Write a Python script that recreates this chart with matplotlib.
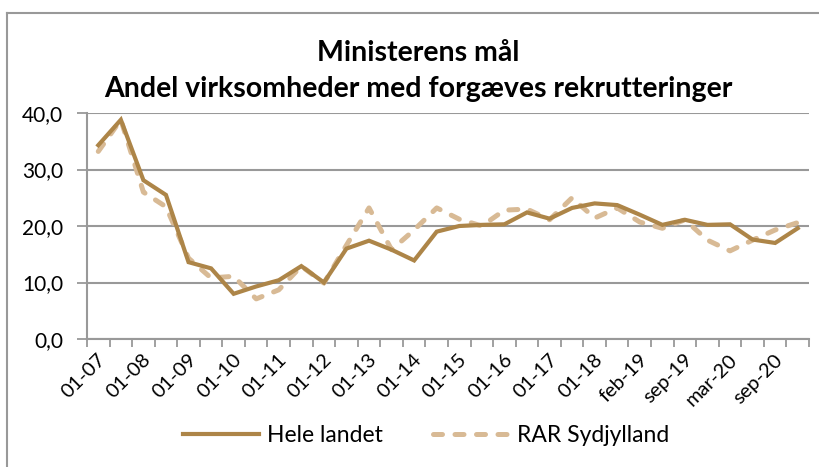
import matplotlib
matplotlib.use("Agg")
import matplotlib.pyplot as plt
import numpy as np

# tick labels (every second category is labelled)
LABELS = ["01-07", "01-08", "01-09", "01-10", "01-11", "01-12", "01-13", "01-14",
          "01-15", "01-16", "01-17", "01-18", "feb-19", "sep-19", "mar-20", "sep-20"]

hele_landet = [34.3, 38.8, 28.1, 25.5, 13.6, 12.5, 8.0, 9.3, 10.4, 12.9, 10.0, 16.0,
               17.4, 15.8, 13.9, 19.0, 20.0, 20.2, 20.3, 22.4, 21.3, 23.2, 24.0, 23.7,
               22.0, 20.2, 21.1, 20.2, 20.3, 17.6, 17.0, 19.6]

rar_sydjylland = [33.2, 38.8, 26.0, 23.4, 14.3, 10.8, 11.1, 7.1, 8.7, 12.9, 9.9, 16.6,
                  23.2, 15.8, 19.3, 23.2, 21.2, 20.0, 22.8, 23.0, 21.1, 25.0, 21.4, 23.2,
                  20.7, 19.6, 21.1, 17.5, 15.6, 17.5, 19.3, 20.6]

SOLID = "#AD8548"
DASHED = "#D8BA95"
GRID = "#999999"
FONT = "Lato"

plt.rcParams["font.family"] = [FONT, "DejaVu Sans"]

fig = plt.figure(figsize=(8.2, 4.67), dpi=100)
ax = fig.add_axes([87 / 820, 1 - 339 / 467, (809 - 87) / 820, (339 - 113) / 467])

x = np.arange(len(hele_landet))
ax.plot(x, hele_landet, color=SOLID, linewidth=3.0, solid_joinstyle="miter",
        label="Hele landet", zorder=3)
ax.plot(x, rar_sydjylland, color=DASHED, linewidth=3.6, dashes=(1.8, 2.5),
        dash_capstyle="round", label="RAR Sydjylland", zorder=2)

ax.set_xlim(-0.5, len(x) - 0.5)
ax.set_ylim(0, 40)
ax.set_yticks(np.arange(0, 41, 10))
ax.set_yticklabels([f"{v:.1f}".replace(".", ",") for v in np.arange(0, 41, 10)])
ax.yaxis.grid(True, color=GRID, linewidth=1.5)
ax.set_axisbelow(True)

# ticks between categories; labels (invisible minor ticks) on every second category,
# nudged a little right like the rotated Excel labels
ax.set_xticks(np.arange(-0.5, len(x), 1.0))
ax.set_xticklabels([])
ax.set_xticks(np.arange(0, len(x), 2) + 0.22, minor=True)
ax.set_xticklabels(LABELS, minor=True, rotation=45, ha="right", va="center",
                   rotation_mode="anchor", fontsize=14.5)
ax.tick_params(axis="x", which="major", length=6, width=1.3, color=GRID, direction="out")
ax.tick_params(axis="x", which="minor", length=0, pad=13)
ax.tick_params(axis="y", length=7, width=1.3, color=GRID, labelsize=15, pad=10)

for s in ["top", "right"]:
    ax.spines[s].set_visible(False)
for s in ["left", "bottom"]:
    ax.spines[s].set_color(GRID)
    ax.spines[s].set_linewidth(1.5)

fig.text(0.51, 1 - 61 / 467, "Ministerens mål", ha="center", va="baseline",
         fontsize=20.5, fontweight="bold")
fig.text(0.51, 1 - 97 / 467, "Andel virksomheder med forgæves rekrutteringer",
         ha="center", va="baseline", fontsize=20.5, fontweight="bold")

fig.legend(loc="center", bbox_to_anchor=(0.52, 1 - 436 / 467), ncol=2, frameon=False,
           fontsize=16.5, handlelength=3.3, columnspacing=2.2, handletextpad=0.35)

# outer chart frame (left and top visible)
fig.add_artist(plt.Line2D([7 / 820, 7 / 820], [0, 1 - 13 / 467], color=GRID,
                          linewidth=1.5, transform=fig.transFigure))
fig.add_artist(plt.Line2D([7 / 820, 1], [1 - 13 / 467, 1 - 13 / 467], color=GRID,
                          linewidth=1.5, transform=fig.transFigure))

fig.savefig("out.png", dpi=100, facecolor="white")
